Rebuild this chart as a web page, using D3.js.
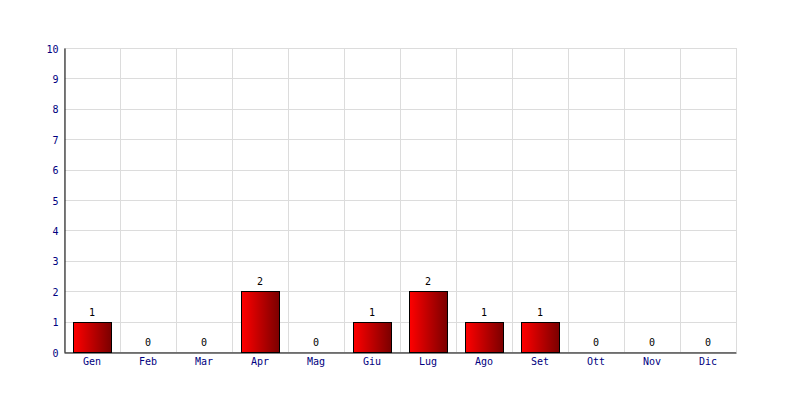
<!DOCTYPE html>
<html><head><meta charset="utf-8">
<script src="https://cdn.jsdelivr.net/npm/d3@7"></script>
<style>body{margin:0;background:#fff}svg{display:block}</style>
</head><body>
<svg id="c" width="800" height="400"></svg>
<script>
const categories = ["Gen","Feb","Mar","Apr","Mag","Giu","Lug","Ago","Set","Ott","Nov","Dic"];
const values = [1,0,0,2,0,1,2,1,1,0,0,0];
const yTicks = [0,1,2,3,4,5,6,7,8,9,10];

const svg = d3.select("#c");
const m = {l:64, r:64, t:48, b:48};
const W = 800, H = 400;
const x = d3.scaleBand().domain(categories).range([m.l, W - m.r]).paddingInner(0).paddingOuter(0);
const y = d3.scaleLinear().domain([0,10]).range([H - m.b, m.t]);
const font = "'DejaVu Sans Mono', monospace";
const fs = 10;

const defs = svg.append("defs");
const g = defs.append("linearGradient").attr("id","rg").attr("x1","0").attr("x2","1").attr("y1","0").attr("y2","0");
g.append("stop").attr("offset","0").attr("stop-color","#ff0000");
g.append("stop").attr("offset","1").attr("stop-color","#7a0000");

// grid
svg.append("g").selectAll("line").data(yTicks).join("line")
  .attr("x1", m.l).attr("x2", W - m.r)
  .attr("y1", d => Math.round(y(d)) + 0.5).attr("y2", d => Math.round(y(d)) + 0.5)
  .attr("stroke", "#dcdcdc");
const bounds = categories.map(c => x(c)).concat([x(categories[categories.length-1]) + x.bandwidth()]);
svg.append("g").selectAll("line").data(bounds).join("line")
  .attr("x1", d => Math.round(d) + 0.5).attr("x2", d => Math.round(d) + 0.5)
  .attr("y1", m.t).attr("y2", H - m.b)
  .attr("stroke", "#dcdcdc");

// bars
const bw = 38;
svg.append("g").selectAll("rect").data(values.map((v,i)=>({c:categories[i], v})).filter(d=>d.v>0)).join("rect")
  .attr("x", d => Math.round(x(d.c) + x.bandwidth()/2 - bw/2) + 0.5)
  .attr("y", d => Math.round(y(d.v)) + 0.5)
  .attr("width", bw)
  .attr("height", d => Math.round(y(0)) - Math.round(y(d.v)))
  .attr("fill", "url(#rg)")
  .attr("stroke", "#000").attr("stroke-width", 1);

// value labels
svg.append("g").selectAll("text").data(values.map((v,i)=>({c:categories[i], v}))).join("text")
  .attr("x", d => x(d.c) + x.bandwidth()/2)
  .attr("y", d => Math.round(y(d.v)) - 6)
  .attr("text-anchor", "middle")
  .attr("font-family", font).attr("font-size", fs).attr("fill", "#000")
  .text(d => d.v);

// axes
const yAxis = d3.axisLeft(y).tickValues(yTicks).tickSize(0).tickPadding(6);
const ya = svg.append("g").attr("transform", `translate(${m.l + 0.5},0)`).call(yAxis);
ya.select(".domain").attr("stroke", "#000");
ya.selectAll("text").attr("font-family", font).attr("font-size", fs).attr("fill", "#000080")
  .attr("dy", null).attr("y", 4);

const xAxis = d3.axisBottom(x).tickSize(0).tickPadding(5);
const xa = svg.append("g").attr("transform", `translate(0,${H - m.b})`).call(xAxis);
xa.select(".domain").attr("stroke", "#000").attr("transform", "translate(0,0.5)");
xa.selectAll("text").attr("font-family", font).attr("font-size", fs).attr("fill", "#000080")
  .attr("dy", null).attr("y", 13);
</script>
</body></html>
